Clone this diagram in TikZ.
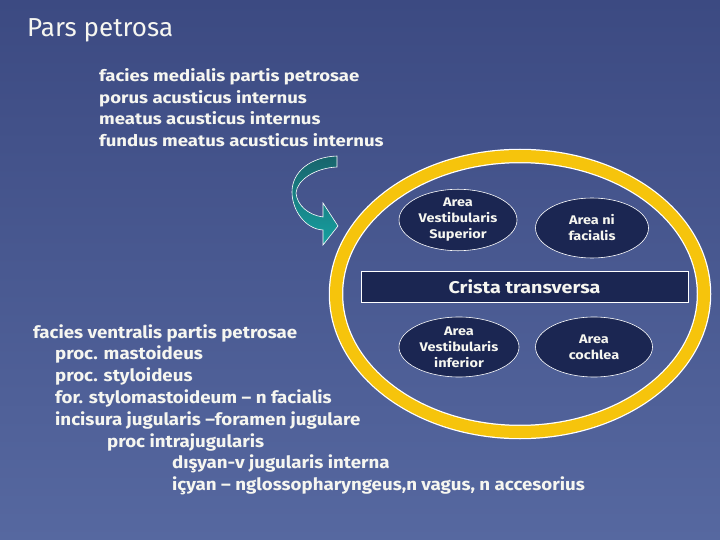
\documentclass[tikz,border=0pt]{standalone}
\usepackage{fontspec}
\setmainfont{Fira Sans}
\newfontfamily\widefont[FakeStretch=1.16]{Fira Sans}
\newfontfamily\midfont[FakeStretch=1.1]{Fira Sans}
\usetikzlibrary{shapes,positioning,calc}
\definecolor{bgtop}{RGB}{60,74,130}
\definecolor{bgbot}{RGB}{86,104,160}
\definecolor{navy}{RGB}{27,38,82}
\definecolor{ringyellow}{RGB}{246,196,12}
\definecolor{tealdark}{RGB}{24,100,108}
\definecolor{teallight}{RGB}{22,160,160}
\definecolor{chalk}{RGB}{246,246,240}
\tikzset{
  area/.style={ellipse, draw=white, line width=0.6pt, fill=navy, text=chalk, align=center, inner sep=0pt, font=\widefont\bfseries\fontsize{12.5}{16}\selectfont},
  medial/.style={text=chalk, anchor=base west, inner sep=0pt, font=\widefont\bfseries\fontsize{16}{20}\selectfont},
  ventral/.style={text=chalk, anchor=base west, inner sep=0pt, font=\midfont\bfseries\fontsize{17}{20}\selectfont},
}

\begin{document}
\begin{tikzpicture}[x=1pt,y=-1pt]
  \shade[top color=bgtop,bottom color=bgbot] (0,0) rectangle (720,540);
  \useasboundingbox (0,0) rectangle (720,540);

  \node[text=chalk, anchor=base west, inner sep=0pt, font=\fontsize{26}{30}\selectfont] (title) at (27,37) {Pars petrosa};

  % facies medialis
  \foreach \t [count=\i] in {facies medialis partis petrosae, porus acusticus internus, meatus acusticus internus, fundus meatus acusticus internus}
    \node[medial] (medial-\i) at (99, 82+21.5*\i-21.5) {\t};

  % curved arrow
  \shade[top color=tealdark, bottom color=teallight, draw=white, line width=0.6pt]
    (337,156) .. controls (310,157) and (292,172) .. (292,192)
    .. controls (292,210) and (305,229) .. (323,230)
    -- (323,245) -- (338,226) -- (323,203) -- (323,217)
    .. controls (308,215) and (297,205) .. (296,193)
    .. controls (297,180) and (315,168) .. (337,167) -- cycle;

  % ring
  \draw[white, line width=14.5pt] (520,294) ellipse [x radius=184pt, y radius=138pt];
  \draw[ringyellow, line width=12pt] (520,294) ellipse [x radius=184pt, y radius=138pt];

  \node[draw=white, line width=0.8pt, fill=navy, text=chalk, minimum width=327pt, minimum height=31pt, inner sep=0pt, font=\widefont\bfseries\fontsize{17}{20}\selectfont] (crista) at (524.5,286.5) {Crista transversa};

  \node[area, minimum width=118pt, minimum height=56pt] (vsup) at (458,220) {Area\\Vestibularis\\Superior};
  \node[area, minimum width=113pt, minimum height=60pt] (facialis) at (592,228) {Area ni\\facialis};
  \node[area, minimum width=120pt, minimum height=60pt] (vinf) at (459,347) {Area\\Vestibularis\\inferior};
  \node[area, minimum width=117pt, minimum height=60pt] (cochlea) at (594,347) {Area\\cochlea};

  % facies ventralis
  \foreach \x/\t [count=\i] in {33/facies ventralis partis petrosae, 55/proc. mastoideus, 55/proc. styloideus, 55/for. stylomastoideum – n facialis, 55/incisura jugularis –foramen jugulare, 107/proc intrajugularis, 172/dışyan-v jugularis interna, {172/içyan – nglossopharyngeus,n vagus, n accesorius}}
    \node[ventral] (ventral-\i) at (\x, 338+21.8*\i-21.8) {\t};
\end{tikzpicture}
\end{document}
